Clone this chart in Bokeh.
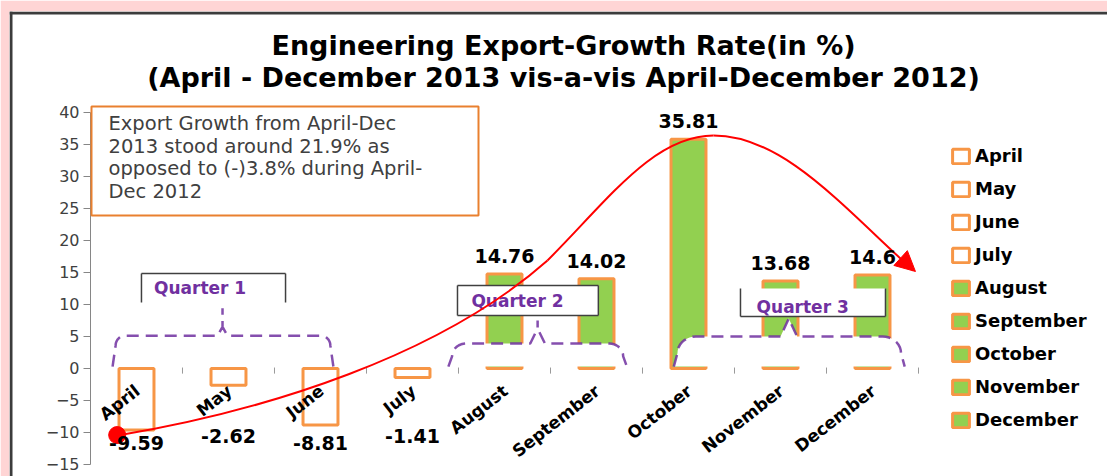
import math
import numpy as np
from bokeh.plotting import figure
from bokeh.models import (ColumnDataSource, Label, BoxAnnotation, Legend, LegendItem,
                          FixedTicker, Arrow, NormalHead, Range1d)
from bokeh.core.properties import value
from bokeh.embed import file_html
from bokeh.resources import INLINE

# ---------------- data ----------------
months = ["April", "May", "June", "July", "August", "September",
          "October", "November", "December"]
growth = [-9.59, -2.62, -8.81, -1.41, 14.76, 14.02, 35.81, 13.68, 14.6]
filled = [False, False, False, False, True, True, True, True, True]
y_ticks = [-15, -10, -5, 0, 5, 10, 15, 20, 25, 30, 35, 40]
title_lines = ["Engineering Export-Growth Rate(in %)",
               "(April - December 2013 vis-a-vis April-December 2012)"]
note_lines = ["Export Growth from April-Dec",
              "2013 stood around 21.9% as",
              "opposed to (-)3.8% during April-",
              "Dec 2012"]
quarter_names = ["Quarter 1", "Quarter 2", "Quarter 3"]

# ---------------- style ----------------
ORANGE = "#F79646"
GREEN = "#92D050"
PURPLE = "#7030A0"
RED = "#FF0000"
PINK = "#FFD5D5"
DARK = "#3c3c3c"
FONT = "DejaVu Sans"

W, H = 1107, 476
FL, FT = 9, 11          # frame starts here (pink surround outside)
FB = H                  # frame bottom = canvas bottom

# plot range extended so the frame covers the whole white panel
X_LO, X_HI = -1.3804, 10.5543
Y_LO, Y_HI = -16.875, 55.78

p = figure(width=W, height=H, x_range=Range1d(X_LO, X_HI), y_range=Range1d(Y_LO, Y_HI),
           x_axis_type=None, min_border_left=FL, min_border_right=0,
           min_border_top=FT, min_border_bottom=0,
           output_backend="svg", toolbar_location=None)
p.title.visible = False
p.outline_line_color = None
p.ygrid.visible = False
p.background_fill_color = "white"
p.border_fill_color = PINK

yax = p.yaxis[0]
yax.fixed_location = -0.5
yax.bounds = (min(y_ticks), max(y_ticks))
yax.ticker = FixedTicker(ticks=y_ticks)
yax.axis_line_color = "#868686"
yax.major_tick_line_color = "#868686"
yax.major_tick_out = 7
yax.major_tick_in = 0
yax.minor_tick_out = 0
yax.minor_tick_in = 0
yax.major_label_text_font = FONT
yax.major_label_text_font_size = "16px"
yax.major_label_text_color = "#404040"
yax.major_label_standoff = 4

# ---------------- category boundary ticks on the zero line ----------------
bx = [i + 0.5 for i in range(len(months))]
p.segment(x0=bx, x1=bx, y0=[0.15] * len(bx), y1=[-0.8] * len(bx),
          line_color="#9a9a9a", line_width=1)

# ---------------- bars ----------------
src = ColumnDataSource(dict(
    x=list(range(len(months))),
    top=growth,
    fill=[GREEN if f else "white" for f in filled],
    month=months))
bars = p.vbar(x="x", top="top", bottom=0, width=0.38, fill_color="fill",
              line_color=ORANGE, line_width=3, source=src)

# ---------------- quarter braces (annotation) ----------------
braces = [
    dict(xl=-0.26, xr=2.14, ytop=5.1, xp=0.935, h1=1.4, ypk=9.4, rx=0.10, ry=1.5, d=0.055, lean=0.033),
    dict(xl=3.39, xr=5.33, ytop=3.9, xp=4.36, h1=2.35, ypk=7.5, rx=0.15, ry=2.0, d=0.08, lean=0.04),
    dict(xl=5.84, xr=8.35, ytop=5.0, xp=7.09, h1=2.8, ypk=7.8, rx=0.20, ry=2.6, d=0.09, lean=0.04),
]
YB = 0.3
for b in braces:
    th = np.linspace(math.pi, math.pi / 2, 10)
    cxl = b["xl"] + b["lean"] + b["rx"]
    cy = b["ytop"] - b["ry"]
    lx = list(cxl + b["rx"] * np.cos(th))
    ly = list(cy + b["ry"] * np.sin(th))
    th2 = np.linspace(math.pi / 2, 0, 10)
    cxr = b["xr"] - b["lean"] - b["rx"]
    rxs = list(cxr + b["rx"] * np.cos(th2))
    rys = list(cy + b["ry"] * np.sin(th2))
    xp, yt = b["xp"], b["ytop"]
    fx = [b["xl"]] + lx + [xp - b["d"], xp, xp + b["d"]] + rxs + [b["xr"]]
    fy = [YB] + ly + [yt, yt + b["h1"], yt] + rys + [YB]
    p.patch(fx, fy, fill_color="white", line_color=None)
    ox = [b["xl"]] + lx + [xp - b["d"], xp, xp, xp, xp + b["d"]] + rxs + [b["xr"]]
    oy = [YB] + ly + [yt, yt + b["h1"], b["ypk"], yt + b["h1"], yt] + rys + [YB]
    p.line(ox, oy, line_color=PURPLE, line_width=2.5, line_dash="12 7", line_alpha=0.85)

# ---------------- quarter label boxes ----------------
qboxes = [
    dict(l=0.054, r=1.62, t=14.84, b=10.31, sides="tlr", tx=0.19, ty=12.5),
    dict(l=3.489, r=5.02, t=12.97, b=8.28, sides="tlrb", tx=3.64, ty=10.6),
    dict(l=6.565, r=8.141, t=12.5, b=8.125, sides="lrb", tx=6.74, ty=9.55),
]
for q, name in zip(qboxes, quarter_names):
    p.quad(left=[q["l"]], right=[q["r"]], top=[q["t"]], bottom=[q["b"]],
           fill_color="white", line_color=None)
    xs, ys = [], []
    if "t" in q["sides"]:
        xs.append([q["l"], q["r"]]); ys.append([q["t"], q["t"]])
    if "b" in q["sides"]:
        xs.append([q["l"], q["r"]]); ys.append([q["b"], q["b"]])
    if "l" in q["sides"]:
        xs.append([q["l"], q["l"]]); ys.append([q["b"], q["t"]])
    if "r" in q["sides"]:
        xs.append([q["r"], q["r"]]); ys.append([q["b"], q["t"]])
    p.multi_line(xs, ys, line_color="#404040", line_width=1.5)
    p.text(x=[q["tx"]], y=[q["ty"]], text=[name], text_font=value(FONT),
           text_font_style="bold", text_font_size="17px", text_color=PURPLE,
           text_align="left", text_baseline="middle")

# ---------------- red trend curve (annotation) ----------------
curve = [
    ((-0.2065, -10.47), (1.424, -6.56), (3.304, 2.03), (4.467, 16.875)),
    ((4.467, 16.875), (5.12, 26.25), (5.62, 36.41), (6.272, 36.41)),
    ((6.272, 36.41), (7.033, 36.41), (7.685, 25.16), (8.446, 15.31)),
]
p.bezier(x0=[c[0][0] for c in curve], y0=[c[0][1] for c in curve],
         cx0=[c[1][0] for c in curve], cy0=[c[1][1] for c in curve],
         cx1=[c[2][0] for c in curve], cy1=[c[2][1] for c in curve],
         x1=[c[3][0] for c in curve], y1=[c[3][1] for c in curve],
         line_color=RED, line_width=2)
p.scatter(x=[-0.21], y=[-10.4], size=17, fill_color=RED, line_color=RED)
p.add_layout(Arrow(end=NormalHead(size=20, fill_color=RED, line_color=RED),
                   x_start=8.354, y_start=16.63, x_end=8.467, y_end=15.16,
                   line_color=RED, line_width=2))

# ---------------- data labels ----------------
lab_y = [v if v > 0 else (-11.7 if v < -5 else -10.6) for v in growth]
lab_off = [-18 if v > 0 else 0 for v in growth]
p.text(x=list(range(len(months))), y=lab_y, text=[f"{v:g}" for v in growth],
       y_offset=lab_off, text_font=value(FONT), text_font_style="bold",
       text_font_size="19px", text_color="black", text_align="center",
       text_baseline="middle")

# ---------------- category labels ----------------
p.text(x=list(range(len(months))), y=[0] * len(months), text=months,
       angle=math.radians(38), text_align="right", text_baseline="middle",
       x_offset=1, y_offset=20, text_font=value(FONT), text_font_style="bold",
       text_font_size="17px", text_color="black")

# ---------------- legend ----------------
items = [LegendItem(label=m, renderers=[bars], index=i) for i, m in enumerate(months)]
legend = Legend(items=items, location=(950 - FL, FB - 430), glyph_width=21, glyph_height=18,
                label_height=21, spacing=12, padding=0, margin=0,
                border_line_color=None, background_fill_alpha=0,
                label_text_font=FONT, label_text_font_style="bold",
                label_text_font_size="18px", label_text_color="black",
                label_standoff=4)
p.add_layout(legend)


def sbox(cl, cr, ct, cb, **kw):
    """Box in canvas pixels, converted to frame-relative screen units."""
    return BoxAnnotation(left=cl - FL, right=cr - FL, top=FB - ct, bottom=FB - cb,
                         left_units="screen", right_units="screen",
                         top_units="screen", bottom_units="screen", **kw)


# dark panel border (left and top)
p.add_layout(sbox(FL, FL + 3, FT, H, fill_color=DARK, fill_alpha=1, line_color=None))
p.add_layout(sbox(FL, W, FT, FT + 3, fill_color=DARK, fill_alpha=1, line_color=None))

# ---------------- note box ----------------
p.add_layout(sbox(91, 478, 106, 215, fill_color="white", fill_alpha=1,
                  line_color="#E9802F", line_alpha=1, line_width=2))
for i, line in enumerate(note_lines):
    p.add_layout(Label(x=108 - FL, y=FB - (123 + 22.7 * i), x_units="screen", y_units="screen",
                       text=line, text_font=FONT, text_font_size="19.5px",
                       text_color="#404040", text_baseline="alphabetic"))

# ---------------- title ----------------
for i, line in enumerate(title_lines):
    p.add_layout(Label(x=563 - FL, y=FB - (45 + 32 * i), x_units="screen", y_units="screen",
                       text=line, text_font=FONT, text_font_size="27px",
                       text_font_style="bold", text_color="black",
                       text_align="center", text_baseline="alphabetic"))

open("out.html", "w").write(file_html(p, INLINE))
